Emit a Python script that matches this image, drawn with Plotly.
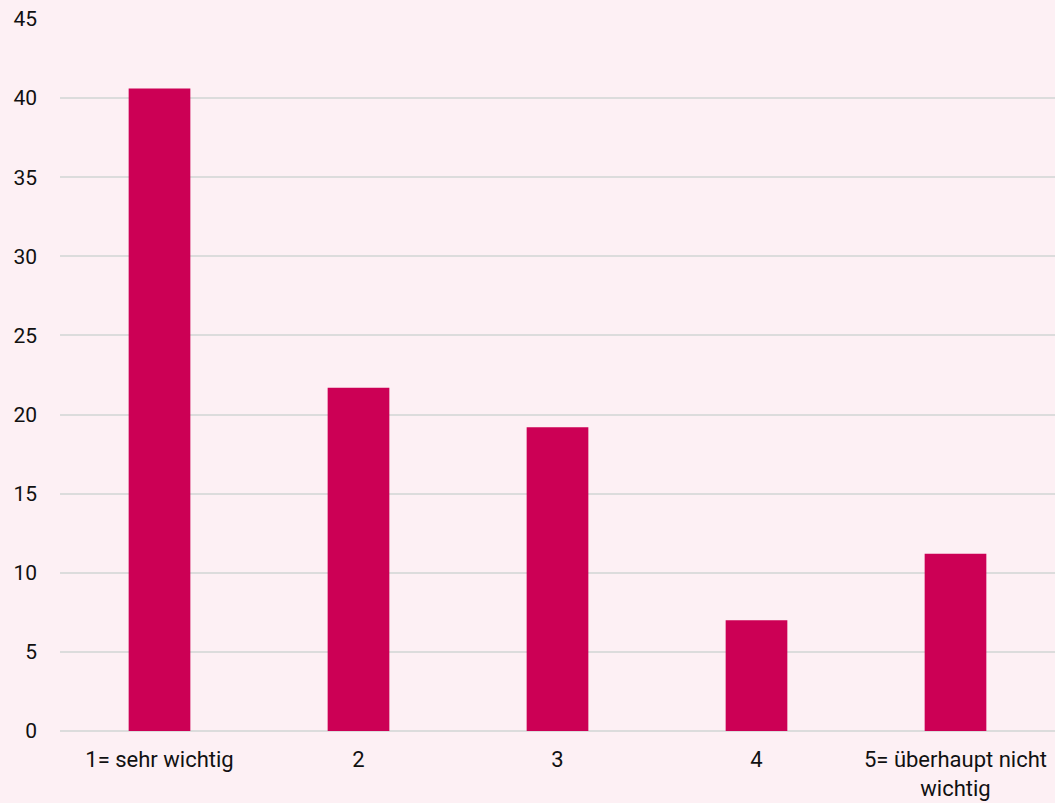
import plotly.graph_objects as go

categories = ["1= sehr wichtig", "2", "3", "4", "5= überhaupt nicht<br>wichtig"]
values = [40.6, 21.7, 19.2, 7.0, 11.2]
y_ticks = [0, 5, 10, 15, 20, 25, 30, 35, 40, 45]

BG = "#fdf0f4"
BAR = "#cc0055"
GRID = "#dcdcdc"
FONT = "Roboto, sans-serif"

fig = go.Figure(
    go.Bar(
        x=categories,
        y=values,
        marker=dict(color=BAR, line=dict(width=0)),
        hoverinfo="x+y",
    )
)

fig.update_layout(
    width=1055,
    height=803,
    paper_bgcolor=BG,
    plot_bgcolor=BG,
    margin=dict(l=60, r=0, t=19, b=72),
    bargap=0.69,
    showlegend=False,
    font=dict(family=FONT, size=22, color="#111111"),
)

fig.update_xaxes(
    showgrid=False,
    showline=False,
    zeroline=False,
    ticks="",
    ticklabelstandoff=13,
    tickfont=dict(family=FONT, size=22, color="#111111"),
)

fig.update_yaxes(
    range=[0, 45],
    tickvals=y_ticks,
    showgrid=True,
    gridcolor=GRID,
    gridwidth=2,
    zeroline=True,
    zerolinecolor=GRID,
    zerolinewidth=2,
    showline=False,
    ticks="",
    ticklabelstandoff=22,
    tickfont=dict(family=FONT, size=21, color="#111111"),
)

fig.write_html("out.html")
